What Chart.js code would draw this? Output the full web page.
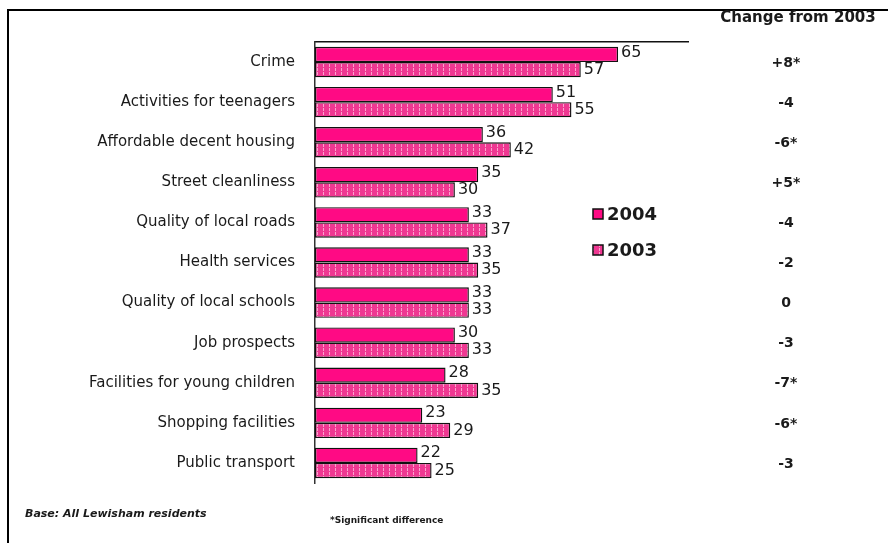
<!DOCTYPE html>
<html>
<head>
<meta charset="utf-8">
<script src="https://cdn.jsdelivr.net/npm/chart.js@4/dist/chart.umd.min.js"></script>
<style>
  html, body { margin: 0; padding: 0; background: #fff; }
  #wrap { width: 888px; height: 543px; position: relative; }
</style>
</head>
<body>
<div id="wrap"><canvas id="issuesChart"></canvas></div>
<script>
// categories, top to bottom
const issues = [
    'Crime',
    'Activities for teenagers',
    'Affordable decent housing',
    'Street cleanliness',
    'Quality of local roads',
    'Health services',
    'Quality of local schools',
    'Job prospects',
    'Facilities for young children',
    'Shopping facilities',
    'Public transport'
];
const values2004 = [65, 51, 36, 35, 33, 33, 33, 30, 28, 23, 22];
const values2003 = [57, 55, 42, 30, 37, 35, 33, 33, 35, 29, 25];
const changeLabels = ['+8*', '-4', '-6*', '+5*', '-4', '-2', '0', '-3', '-7*', '-6*', '-3'];

//..striped fill for the 2003 bars
function stripePattern() {
    const c = document.createElement('canvas');
    c.width = 6;
    c.height = 4;
    const g = c.getContext('2d');
    g.fillStyle = '#EF3892';
    g.fillRect(0, 0, 6, 4);
    g.fillStyle = '#FAA3CD';
    g.fillRect(5, 0, 1, 3);
    return g.createPattern(c, 'repeat');
}

const pattern2003 = stripePattern();

// frame, value labels, legend, change column and footnotes
const extras = {
    id: 'extras',
    beforeDraw(chart) {
        const ctx = chart.ctx;
        ctx.save();
        ctx.fillStyle = '#fff';
        ctx.fillRect(0, 0, chart.width, chart.height);
        ctx.strokeStyle = '#000';
        ctx.lineWidth = 2;
        ctx.beginPath();
        ctx.moveTo(8, chart.height);
        ctx.lineTo(8, 10);
        ctx.lineTo(chart.width, 10);
        ctx.stroke();
        ctx.restore();
    },
    afterDatasetsDraw(chart) {
        const ctx = chart.ctx;
        const yScale = chart.scales.y;
        ctx.save();

        //..value labels at the end of each bar
        ctx.font = '16px "DejaVu Sans"';
        ctx.fillStyle = '#1a1a1a';
        ctx.textAlign = 'left';
        ctx.textBaseline = 'middle';
        chart.data.datasets.forEach((ds, di) => {
            const meta = chart.getDatasetMeta(di);
            meta.data.forEach((bar, i) => {
                ctx.fillText(ds.data[i], bar.x + 3, bar.y - (di === 0 ? 2 : 0));
            });
        });

        //..legend
        const lx = 593;
        const ly = [214, 250];
        chart.data.datasets.forEach((ds, di) => {
            ctx.fillStyle = ds.backgroundColor;
            ctx.fillRect(lx, ly[di] - 5, 10, 10);
            ctx.strokeStyle = '#111';
            ctx.lineWidth = 1.5;
            ctx.strokeRect(lx, ly[di] - 5, 10, 10);
            ctx.fillStyle = '#1a1a1a';
            ctx.font = 'bold 18px "DejaVu Sans"';
            ctx.fillText(ds.label, lx + 14, ly[di] + 1);
        });

        //..change column
        ctx.textAlign = 'center';
        ctx.font = 'bold 15px "DejaVu Sans"';
        ctx.fillText('Change from 2003', 798, 18);
        ctx.font = 'bold 14px "DejaVu Sans"';
        changeLabels.forEach((txt, i) => {
            ctx.fillText(txt, 786, yScale.getPixelForValue(i) + 1);
        });

        //..footnotes
        ctx.textAlign = 'left';
        ctx.font = 'italic bold 11px "DejaVu Sans"';
        ctx.fillText('Base: All Lewisham residents', 25, 514);
        ctx.font = 'bold 9px "DejaVu Sans"';
        ctx.fillText('*Significant difference', 330, 521);
        ctx.restore();
    }
};

new Chart(document.getElementById('issuesChart'), {
    type: 'bar',
    data: {
        labels: issues,
        datasets: [
            {
                label: '2004',
                data: values2004,
                backgroundColor: '#FF0A84',
                borderColor: '#111',
                borderWidth: 1.4,
                borderSkipped: false,
                categoryPercentage: 0.76,
                barPercentage: 1
            },
            {
                label: '2003',
                data: values2003,
                backgroundColor: pattern2003,
                borderColor: '#111',
                borderWidth: 1.4,
                borderSkipped: false,
                categoryPercentage: 0.76,
                barPercentage: 1
            }
        ]
    },
    options: {
        indexAxis: 'y',
        responsive: true,
        maintainAspectRatio: false,
        animation: false,
        layout: {
            padding: { top: 42, right: 200, bottom: 60, left: 0 }
        },
        plugins: {
            legend: { display: false },
            tooltip: { enabled: false }
        },
        scales: {
            x: {
                position: 'top',
                min: 0,
                max: 80,
                grid: { display: false, drawTicks: false },
                ticks: { display: false },
                border: { display: true, color: '#111', width: 1.5 },
                afterFit: s => { s.height = 0; }
            },
            y: {
                grid: { display: false },
                border: { display: true, color: '#333', width: 1.5 },
                ticks: {
                    color: '#1a1a1a',
                    padding: 12,
                    font: { family: '"DejaVu Sans"', size: 15 }
                },
                afterFit: s => { s.width = 315; }
            }
        }
    },
    plugins: [extras]
});
</script>
</body>
</html>
